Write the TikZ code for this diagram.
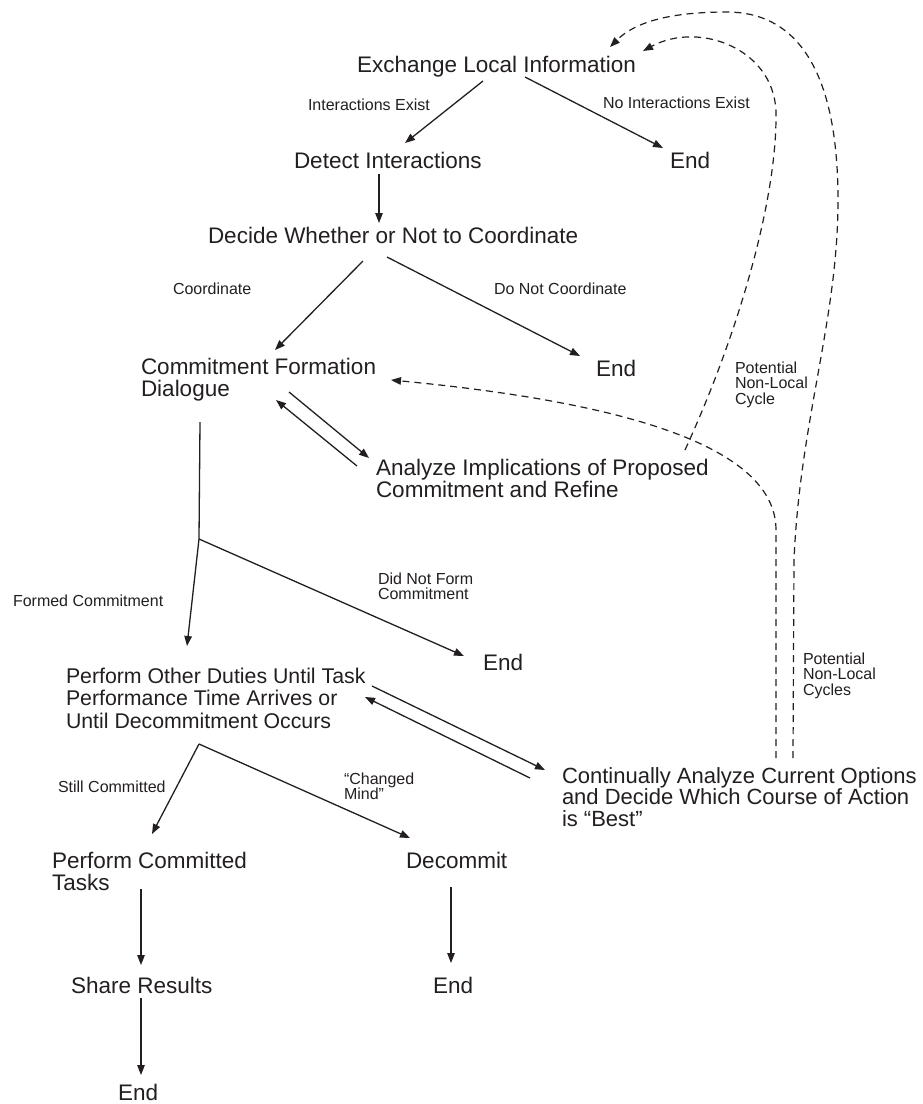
\documentclass[tikz,border=0pt]{standalone}
\usepackage{fontspec}
\setmainfont{Liberation Sans}
\usetikzlibrary{arrows.meta}
\definecolor{ink}{HTML}{231F20}
\begin{document}
\begin{tikzpicture}[x=1pt,y=-1pt,
  every node/.style={inner sep=0pt, outer sep=0pt, anchor=base west, align=left, text=ink},
  stage/.style={font=\fontsize{22.5}{22.5}\selectfont},
  tag/.style={font=\fontsize{16}{15.8}\selectfont},
  flow/.style={draw=ink, line width=1.3pt, -{Triangle[length=10pt,width=7.5pt]}},
  link/.style={draw=ink, line width=1.3pt},
  loopback/.style={draw=ink, line width=1.2pt, dash pattern=on 7pt off 5pt, -{Triangle[length=10pt,width=7.5pt]}}
]
\fill[white] (0,0) rectangle (922,1104);
\useasboundingbox (0,0) rectangle (922,1104);

% stages (multi-line nodes are placed by the baseline of their last line)
\node[stage] (exch)     at (357,72)    {Exchange Local Information};
\node[stage] (detect)   at (294,168)   {Detect Interactions};
\node[stage] (endA)     at (670,168)   {End};
\node[stage] (decide)   at (208,243)   {Decide Whether or Not to Coordinate};
\node[stage] (cfd)      at (141,396.5) {Commitment Formation\\Dialogue};
\node[stage] (endB)     at (596,376)   {End};
\node[stage] (analyze)  at (376,497.5) {Analyze Implications of Proposed\\Commitment and Refine};
\node[stage] (endC)     at (483,670)   {End};
\node[stage, font=\fontsize{21.3}{22.5}\selectfont]
             (perform)  at (66,728)    {Perform Other Duties Until Task\\Performance Time Arrives or\\Until Decommitment Occurs};
\node[stage, font=\fontsize{22}{21.5}\selectfont]
             (cont)     at (562,826)   {Continually Analyze Current Options\\and Decide Which Course of Action\\is “Best”};
\node[stage] (pct)      at (52,890.5)  {Perform Committed\\Tasks};
\node[stage] (decommit) at (406,868)   {Decommit};
\node[stage] (share)    at (71,993)    {Share Results};
\node[stage] (endD)     at (433,993)   {End};
\node[stage] (endE)     at (118,1100)  {End};

% branch labels
\node[tag] (lInter)   at (308,110)   {Interactions Exist};
\node[tag] (lNoInter) at (603,108)   {No Interactions Exist};
\node[tag] (lCoord)   at (173,294)   {Coordinate};
\node[tag] (lNoCoord) at (494,294)   {Do Not Coordinate};
\node[tag] (lCycle)   at (735,404.6) {Potential\\Non-Local\\Cycle};
\node[tag] (lFormed)  at (13,606)    {Formed Commitment};
\node[tag] (lNoForm)  at (378,599.8) {Did Not Form\\Commitment};
\node[tag] (lCycles)  at (803,695.6) {Potential\\Non-Local\\Cycles};
\node[tag] (lStill)   at (58,792)    {Still Committed};
\node[tag] (lChanged) at (344,799.8) {“Changed\\Mind”};

% junctions of the split connectors
\coordinate (j1) at ([shift={(58,142.5)}]cfd.base west);
\coordinate (j2) at ([shift={(133,16)}]perform.base west);

% solid connectors
\draw[flow] ([shift={(126,9)}]exch.base west) -- ([shift={(111,-25)}]detect.base west);
\draw[flow] ([shift={(168,5)}]exch.base west) -- ([shift={(-7,-20)}]endA.base west);
\draw[flow] ([shift={(85,6)}]detect.base west) -- ([shift={(171,-20)}]decide.base west);
\draw[flow] ([shift={(155,18)}]decide.base west) -- ([shift={(134,-46.5)}]cfd.base west);
\draw[flow] ([shift={(179,14)}]decide.base west) -- ([shift={(-16,-20)}]endB.base west);
\draw[flow] ([shift={(148,-4.5)}]cfd.base west) -- ([shift={(-7,-39.5)}]analyze.base west);
\draw[flow] ([shift={(-19,-31.5)}]analyze.base west) -- ([shift={(135,3.5)}]cfd.base west);
\draw[link] ([shift={(59,25.5)}]cfd.base west) -- (j1);
\draw[flow] (j1) -- ([shift={(121,-82)}]perform.base west);
\draw[flow] (j1) -- ([shift={(-19,-14)}]endC.base west);
\draw[flow] ([shift={(306,-42)}]perform.base west) -- ([shift={(-17,-56)}]cont.base west);
\draw[flow] ([shift={(-32,-48)}]cont.base west) -- ([shift={(299,-31)}]perform.base west);
\draw[flow] (j2) -- ([shift={(100,-56.5)}]pct.base west);
\draw[flow] (j2) -- ([shift={(4,-30)}]decommit.base west);
\draw[flow] ([shift={(89,-1.5)}]pct.base west) -- ([shift={(70,-28)}]share.base west);
\draw[flow] ([shift={(70,5)}]share.base west) -- ([shift={(23,-25)}]endE.base west);
\draw[flow] ([shift={(45,19)}]decommit.base west) -- ([shift={(18,-30)}]endD.base west);

% dashed non-local cycles
\draw[loopback] ([shift={(214,-68)}]cont.base west) -- (776,530)
  .. controls (776,440) and (600,400) .. ([shift={(250,-16.5)}]cfd.base west);
\draw[loopback] ([shift={(231,-68)}]cont.base west) -- (794,560)
  .. controls (800,420) and (838,320) .. (838,200)
  .. controls (838,60) and (790,12) .. (727,12)
  .. controls (670,12) and (635,22) .. ([shift={(253,-25)}]exch.base west);
\draw[loopback] ([shift={(309,-47.5)}]analyze.base west)
  .. controls (740,330) and (776,200) .. (776,117)
  .. controls (778,50) and (700,20) .. ([shift={(286,-21)}]exch.base west);
\end{tikzpicture}
\end{document}
